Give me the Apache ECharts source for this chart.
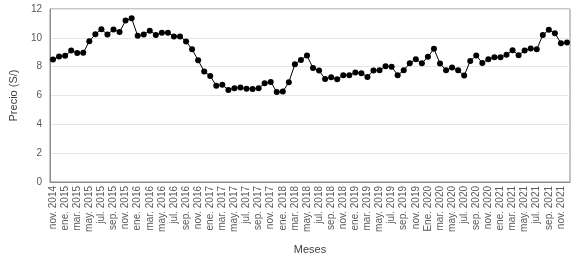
<!DOCTYPE html>
<html>
<head>
<meta charset="utf-8">
<script src="https://cdn.jsdelivr.net/npm/echarts@6/dist/echarts.min.js"></script>
<style>
  html, body { margin: 0; padding: 0; background: #fff; }
  #chart { width: 581px; height: 261px; }
</style>
</head>
<body>
<div id="chart"></div>
<script>
// meses, nov. 2014 a dic. 2021
const meses = [
  'nov. 2014', 'dic. 2014',
  'ene. 2015', 'feb. 2015', 'mar. 2015', 'abr. 2015', 'may. 2015', 'jun. 2015',
  'jul. 2015', 'ago. 2015', 'sep. 2015', 'oct. 2015', 'nov. 2015', 'dic. 2015',
  'ene. 2016', 'feb. 2016', 'mar. 2016', 'abr. 2016', 'may. 2016', 'jun. 2016',
  'jul. 2016', 'ago. 2016', 'sep. 2016', 'oct. 2016', 'nov. 2016', 'dic. 2016',
  'ene. 2017', 'feb. 2017', 'mar. 2017', 'abr. 2017', 'may. 2017', 'jun. 2017',
  'jul. 2017', 'ago. 2017', 'sep. 2017', 'oct. 2017', 'nov. 2017', 'dic. 2017',
  'ene. 2018', 'feb. 2018', 'mar. 2018', 'abr. 2018', 'may. 2018', 'jun. 2018',
  'jul. 2018', 'ago. 2018', 'sep. 2018', 'oct. 2018', 'nov. 2018', 'dic. 2018',
  'ene. 2019', 'feb. 2019', 'mar. 2019', 'abr. 2019', 'may. 2019', 'jun. 2019',
  'jul. 2019', 'ago. 2019', 'sep. 2019', 'oct. 2019', 'nov. 2019', 'dic. 2019',
  'Ene. 2020', 'feb. 2020', 'mar. 2020', 'abr. 2020', 'may. 2020', 'jun. 2020',
  'jul. 2020', 'ago. 2020', 'sep. 2020', 'oct. 2020', 'nov. 2020', 'dic. 2020',
  'ene. 2021', 'feb. 2021', 'mar. 2021', 'abr. 2021', 'may. 2021', 'jun. 2021',
  'jul. 2021', 'ago. 2021', 'sep. 2021', 'oct. 2021', 'nov. 2021', 'dic. 2021'
]

// precio (S/)
const precio = [
  8.5, 8.7,
  8.75, 9.12, 8.94, 8.96, 9.77, 10.25, 10.6, 10.23, 10.58, 10.4, 11.2, 11.35,
  10.14, 10.23, 10.5, 10.2, 10.35, 10.35, 10.1, 10.1, 9.75, 9.2, 8.44, 7.66,
  7.36, 6.67, 6.74, 6.39, 6.5, 6.55, 6.47, 6.45, 6.5, 6.85, 6.94, 6.25,
  6.27, 6.92, 8.17, 8.47, 8.77, 7.9, 7.73, 7.15, 7.27, 7.13, 7.4, 7.4,
  7.6, 7.55, 7.29, 7.73, 7.75, 8.03, 8.0, 7.41, 7.75, 8.24, 8.52, 8.24,
  8.68, 9.24, 8.22, 7.75, 7.94, 7.75, 7.38, 8.4, 8.77, 8.26, 8.52, 8.66,
  8.66, 8.82, 9.14, 8.8, 9.12, 9.26, 9.2, 10.19, 10.56, 10.32, 9.63, 9.68
]

const yTicks = { min: 0, max: 12, interval: 2 }

const myChart = echarts.init(document.getElementById('chart'))
const option = {
  animation: false,
  textStyle: { fontFamily: 'Liberation Sans, Arial, sans-serif' },
  grid: {
    left: 48,
    right: 11,
    top: 9,
    bottom: 79,
    show: true,
    borderColor: '#8c8c8c',
    borderWidth: 1
  },
  xAxis: {
    type: 'category',
    data: meses,
    name: 'Meses',
    nameLocation: 'middle',
    nameGap: 62,
    nameTextStyle: { color: '#404040', fontSize: 11 },
    axisLine: { lineStyle: { color: '#8c8c8c' } },
    axisTick: { show: false },
    axisLabel: {
      interval: 1,
      rotate: 90,
      color: '#595959',
      fontSize: 10,
      margin: 4
    }
  },
  yAxis: {
    type: 'value',
    min: yTicks.min,
    max: yTicks.max,
    interval: yTicks.interval,
    name: 'Precio (S/)',
    nameLocation: 'middle',
    nameGap: 31,
    nameTextStyle: { color: '#404040', fontSize: 11 },
    axisLine: { show: true, lineStyle: { color: '#8c8c8c' } },
    axisTick: { show: false },
    axisLabel: { color: '#595959', fontSize: 10, margin: 8 },
    splitLine: { lineStyle: { color: '#e6e6e6' } }
  },
  series: [
    {
      type: 'line',
      data: precio,
      symbol: 'circle',
      symbolSize: 6,
      showAllSymbol: true,
      itemStyle: { color: '#000' },
      lineStyle: { color: '#000', width: 1 }
    }
  ]
}
myChart.setOption(option)
</script>
</body>
</html>
